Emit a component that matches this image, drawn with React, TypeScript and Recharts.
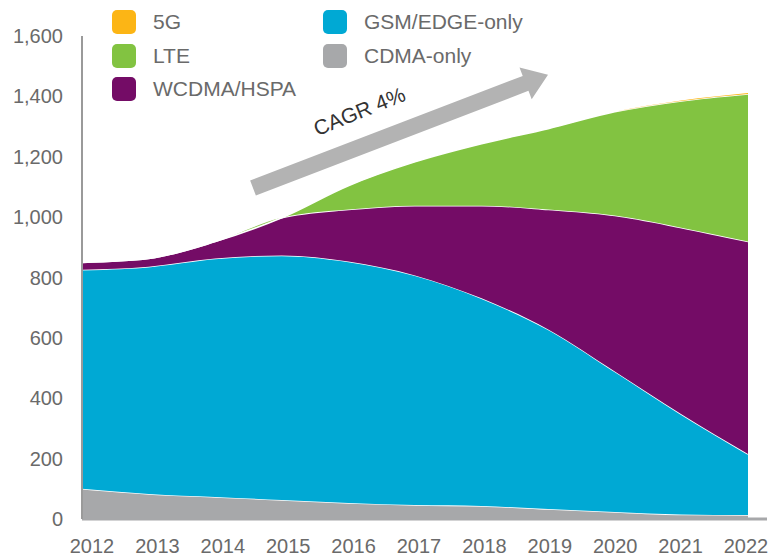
import { Area, AreaChart, XAxis, YAxis } from "recharts";

const years = ["2012", "2013", "2014", "2015", "2016", "2017", "2018", "2019", "2020", "2021", "2022"];
const cdmaOnly = [100, 83, 73, 63, 53, 46, 43, 33, 23, 15, 13];
const gsmEdgeOnly = [726, 753, 790, 810, 800, 761, 688, 595, 466, 332, 202];
const wcdmaHspa = [24, 27, 56, 125, 172, 231, 307, 397, 516, 618, 704];
const lte = [0, 0, 0, 0, 79, 145, 205, 268, 344, 420, 489];
const fiveG = [0, 0, 0, 0, 0, 0, 0, 0, 0, 1, 3];
const yTicks = [0, 200, 400, 600, 800, 1000, 1200, 1400, 1600];

const series = [
  { key: "cdma", name: "CDMA-only", color: "#a7a8aa", values: cdmaOnly },
  { key: "gsm", name: "GSM/EDGE-only", color: "#00a9d4", values: gsmEdgeOnly },
  { key: "wcdma", name: "WCDMA/HSPA", color: "#740c66", values: wcdmaHspa },
  { key: "lte", name: "LTE", color: "#82c341", values: lte },
  { key: "fiveg", name: "5G", color: "#fcb515", values: fiveG },
];

const legendCols = [
  ["5G", "LTE", "WCDMA/HSPA"],
  ["GSM/EDGE-only", "CDMA-only"],
];

const data = years.map((year, i) => {
  const row: Record<string, string | number> = { year };
  series.forEach((s) => {
    row[s.key] = s.values[i];
  });
  return row;
});

const font = "'Liberation Sans', Arial, sans-serif";
const textColor = "#6a6a6a";

const XTick = (props: any) => {
  const { x, y, payload, index } = props;
  return (
    <text
      x={x}
      y={y}
      dx={10 - 1.2 * index}
      dy="0.71em"
      textAnchor="middle"
      fill={textColor}
      fontSize={20}
      fontFamily={font}
    >
      {payload.value}
    </text>
  );
};

const App = () => {
  return (
    <div style={{ position: "absolute", left: 0, top: 0, width: 773, height: 557, background: "#fff" }}>
      <AreaChart
        width={773}
        height={557}
        data={data}
        margin={{ top: 36, right: 6, left: 12, bottom: 0 }}
      >
        <XAxis
          dataKey="year"
          height={38}
          padding={{ left: 0, right: 19 }}
          tickLine={false}
          tickSize={0}
          tickMargin={20}
          axisLine={{ stroke: "#a7a8aa", strokeWidth: 3 }}
          tick={<XTick />}
          interval={0}
        />
        <YAxis
          width={70}
          domain={[0, 1600]}
          ticks={yTicks}
          tickLine={false}
          tickSize={0}
          tickMargin={19}
          axisLine={{ stroke: "#9a9a9a", strokeWidth: 2 }}
          tick={{ fill: textColor, fontSize: 20, fontFamily: font }}
          tickFormatter={(v: number) => v.toLocaleString("en-US")}
        />
        {series.map((s) => (
          <Area
            key={s.key}
            type="monotone"
            dataKey={s.key}
            name={s.name}
            stackId="1"
            fill={s.color}
            fillOpacity={1}
            stroke={s.key === "fiveg" ? "none" : "#ffffff"}
            strokeWidth={1.5}
            isAnimationActive={false}
          />
        ))}
      </AreaChart>

      {/* legend */}
      {legendCols.map((col, ci) =>
        col.map((label, ri) => {
          const s = series.find((d) => d.name === label)!;
          return (
            <div
              key={label}
              style={{
                position: "absolute",
                left: ci === 0 ? 112 : 323,
                top: 10 + ri * 33.5,
                display: "flex",
                alignItems: "center",
                height: 24,
                fontFamily: font,
                fontSize: 21,
                color: textColor,
                whiteSpace: "nowrap",
              }}
            >
              <span
                style={{
                  display: "inline-block",
                  width: 24,
                  height: 24,
                  borderRadius: 5,
                  background: s.color,
                  marginRight: 17,
                }}
              />
              {label}
            </div>
          );
        })
      )}

      {/* CAGR arrow */}
      <svg
        width={773}
        height={557}
        style={{ position: "absolute", left: 0, top: 0, pointerEvents: "none" }}
      >
        <g transform="translate(253,188) rotate(-21)">
          <polygon points="0,-8 292,-8 292,-17 316,0 292,17 292,8 0,8" fill="#b3b3b3" />
        </g>
        <text
          x={360}
          y={113}
          transform="rotate(-22 360 113)"
          textAnchor="middle"
          dominantBaseline="middle"
          fontFamily={font}
          fontSize={21}
          fill="#333"
        >
          CAGR 4%
        </text>
      </svg>
    </div>
  );
};

export default App;
